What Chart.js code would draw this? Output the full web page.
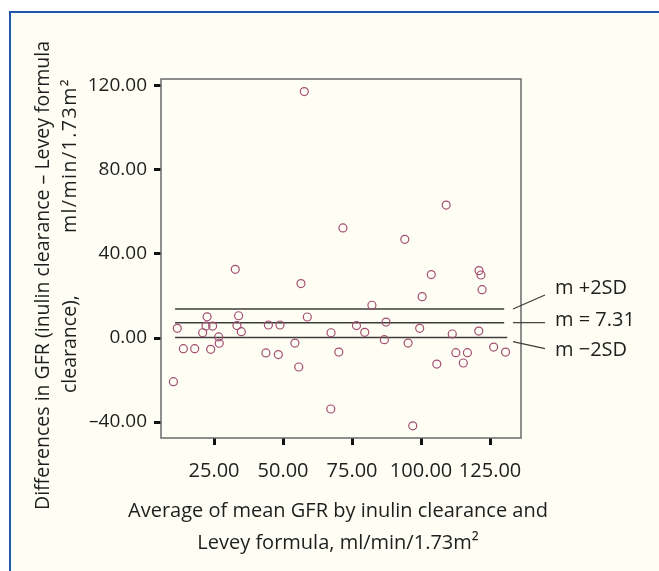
<!DOCTYPE html>
<html>
<head>
<meta charset="utf-8">
<script src="https://cdn.jsdelivr.net/npm/chart.js@4"></script>
<style>
  html, body { margin: 0; padding: 0; background: #fff; }
  #wrap { position: relative; width: 659px; height: 571px; overflow: hidden; }
  #panel { position: absolute; left: 9px; top: 11px; right: 0; bottom: 0;
    border-top: 2px solid #2356a8; border-left: 2px solid #2356a8; background: #fffef4; }
  #myChart { position: absolute; left: 0; top: 0; }
</style>
</head>
<body>
<div id="wrap">
  <div id="panel"></div>
  <canvas id="myChart" width="659" height="571"></canvas>
</div>
<script>
// average GFR (x) and difference inulin - Levey (y)
const avgGFR = [11.7, 10.3, 13.9, 18.0, 22.5, 22.1, 24.5, 20.9, 23.8, 26.7,
  26.9, 33.9, 33.3, 34.9, 44.7, 48.9, 43.8, 48.3, 56.5, 82.2,
  58.8, 54.3, 55.7, 67.4, 70.2, 67.3, 76.6, 79.6, 87.3, 86.7,
  95.3, 100.4, 122.1, 99.5, 111.3, 120.9, 105.7, 112.6, 116.8, 115.3,
  126.3, 130.6, 97.0, 57.7, 109.1, 71.7, 94.1, 32.7, 103.7, 121.0, 121.7];
const diffGFR = [4.6, -20.8, -5.1, -5.1, 10.1, 5.7, 5.7, 2.5, -5.4, 0.5,
  -2.5, 10.6, 5.9, 3.0, 6.2, 6.2, -7.1, -7.9, 25.9, 15.6,
  10.0, -2.4, -13.8, 2.5, -6.7, -33.8, 5.9, 2.7, 7.6, -0.8,
  -2.4, 19.7, 23.0, 4.6, 1.9, 3.3, -12.4, -7.0, -7.0, -11.9,
  -4.3, -6.7, -41.8, 117.3, 63.3, 52.4, 47.0, 32.7, 30.2, 32.1, 30.0];

const xTicks = [25, 50, 75, 100, 125];
const yTicks = [-40, 0, 40, 80, 120];

// mean and limits of agreement
const refLabels = ["m +2SD", "m = 7.31", "m \u22122SD"];
const refValues = [13.8, 7.31, 0.2];
const refFrom = [10.9, 10.9, 10.9];
const refTo = [130.1, 130.1, 131.2];

const FONT = "'Open Sans', 'DejaVu Sans', sans-serif";
const fmt = (v) => (v < 0 ? "\u2013" : "") + Math.abs(v).toFixed(2);

const points = avgGFR.map((x, i) => ({ x: x, y: diffGFR[i] }));

const refSets = refValues.map((v, i) => ({
  type: "line",
  data: [{ x: refFrom[i], y: v }, { x: refTo[i], y: v }],
  borderColor: "#3c3c3c",
  borderWidth: 1.5,
  pointRadius: 0,
  order: 2,
}));

// frame, axis titles and the labels at the right
const extras = {
  id: "extras",
  beforeDatasetsDraw(chart) {
    const { ctx, chartArea: a } = chart;
    ctx.save();
    ctx.strokeStyle = "#6a6a6a";
    ctx.lineWidth = 1.5;
    ctx.strokeRect(a.left, a.top, a.right - a.left, a.bottom - a.top);
    ctx.restore();
  },
  afterDraw(chart) {
    const { ctx, chartArea: a, scales } = chart;
    ctx.save();
    ctx.fillStyle = "#1e1e1e";
    ctx.font = "20px " + FONT;
    ctx.textAlign = "center";
    ctx.textBaseline = "middle";
    ctx.fillText("Average of mean GFR by inulin clearance and", 338, 511);
    ctx.fillText("Levey formula, ml/min/1.73m\u00b2", 338, 543);

    ctx.font = "19.5px " + FONT;
    ctx.save();
    ctx.translate(43, 510);
    ctx.rotate(-Math.PI / 2);
    ctx.textAlign = "left";
    ctx.fillText("Differences in GFR (inulin clearance \u2013 Levey formula", 0, 0);
    ctx.restore();
    ctx.save();
    ctx.translate(70, 393);
    ctx.rotate(-Math.PI / 2);
    ctx.textAlign = "left";
    ctx.fillText("clearance),", 0, 0);
    ctx.restore();
    ctx.save();
    ctx.translate(70, 78);
    ctx.rotate(-Math.PI / 2);
    ctx.textAlign = "right";
    ctx.letterSpacing = "1.5px";
    ctx.fillText("ml/min/1.73m\u00b2", 0, 0);
    ctx.restore();

    // leader lines + labels
    const startDy = [0, 0, 4];
    const endDy = [-14, 0, 11];
    const labDy = [-21, -2, 13];
    ctx.font = "20px " + FONT;
    ctx.strokeStyle = "#3c3c3c";
    ctx.lineWidth = 1.2;
    ctx.textAlign = "left";
    refValues.forEach((v, i) => {
      const y = scales.y.getPixelForValue(v);
      ctx.beginPath();
      ctx.moveTo(a.right - 8, y + startDy[i]);
      ctx.lineTo(a.right + 24, y + endDy[i]);
      ctx.stroke();
      ctx.fillText(refLabels[i], a.right + 34, y + labDy[i]);
    });
    ctx.restore();
  },
};

const ctx = document.getElementById("myChart");
const config = {
  type: "scatter",
  data: {
    datasets: [
      {
        data: points,
        pointRadius: 4,
        pointBorderWidth: 1.2,
        pointBorderColor: "#a24e72",
        pointBackgroundColor: "rgba(0,0,0,0)",
        order: 1,
      },
      ...refSets,
    ],
  },
  options: {
    responsive: false,
    animation: false,
    devicePixelRatio: 1,
    layout: { padding: { top: 79, right: 138, bottom: 0, left: 0 } },
    plugins: { legend: { display: false }, tooltip: { enabled: false } },
    scales: {
      x: {
        type: "linear",
        min: 5.8,
        max: 136.2,
        afterBuildTicks: (s) => { s.ticks = xTicks.map((v) => ({ value: v })); },
        afterFit: (s) => { s.height = 133; },
        border: { display: false },
        grid: { drawOnChartArea: false, tickLength: 7, tickWidth: 3, tickColor: "#111" },
        ticks: {
          padding: 14,
          color: "#1e1e1e",
          font: { family: FONT, size: 20 },
          maxRotation: 0,
          autoSkip: false,
          callback: (v) => fmt(v),
        },
      },
      y: {
        min: -47.6,
        max: 123.3,
        afterBuildTicks: (s) => { s.ticks = yTicks.map((v) => ({ value: v })); },
        afterFit: (s) => { s.width = 161; },
        border: { display: false },
        grid: { drawOnChartArea: false, tickLength: 7, tickWidth: 3, tickColor: "#111" },
        ticks: {
          padding: 7,
          color: "#1e1e1e",
          font: { family: FONT, size: 19 },
          autoSkip: false,
          callback: (v) => fmt(v),
        },
      },
    },
  },
  plugins: [extras],
};
const myChart = new Chart(ctx, config);
</script>
</body>
</html>
